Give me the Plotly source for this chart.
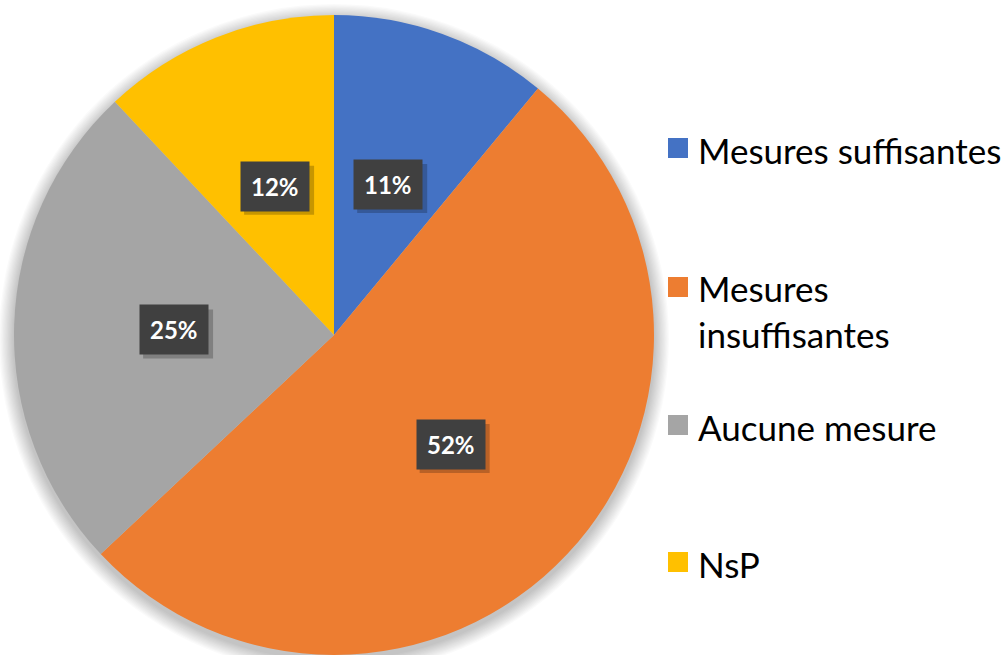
import math
import plotly.graph_objects as go

categories = ["Mesures suffisantes", "Mesures insuffisantes", "Aucune mesure", "NsP"]
legend_labels = ["Mesures suffisantes", "Mesures<br>insuffisantes", "Aucune mesure", "NsP"]
values = [11, 52, 25, 12]
colors = ["#4472C4", "#ED7D31", "#A5A5A5", "#FFC000"]

W, H = 1008, 655
# pie domain (paper coords)
dx0, dx1 = 13.5 / W, 654.5 / W
dy0, dy1 = 0.0, 1 - 15 / H

fig = go.Figure()
fig.add_trace(go.Pie(
    labels=categories, values=values, sort=False, direction="clockwise", rotation=0,
    marker=dict(colors=colors, line=dict(width=0)),
    textinfo="none", hoverinfo="label+percent", showlegend=False,
    domain=dict(x=[dx0, dx1], y=[dy0, dy1]),
))

# geometry in pixels
cx = (dx0 + dx1) / 2 * W
cy = (1 - (dy0 + dy1) / 2) * H
r = min((dx1 - dx0) * W, (dy1 - dy0) * H) / 2

def to_paper(px, py):
    return px / W, 1 - py / H

shapes = []
# soft shadow around the pie
for i in range(12):
    grow = 15 - i * 1.25
    x0, y1p = to_paper(cx - r - grow, cy - r - grow + 4)
    x1, y0p = to_paper(cx + r + grow, cy + r + grow + 4)
    shapes.append(dict(type="circle", xref="paper", yref="paper", x0=x0, x1=x1, y0=y0p, y1=y1p,
                       fillcolor="rgba(0,0,0,0.02)", line=dict(width=0), layer="below"))

annotations = []
total = sum(values)
cum = 0
BOX_W, BOX_H = 70, 49
for v in values:
    mid = (cum + v / 2) / total * 2 * math.pi
    cum += v
    px = cx + 0.5 * r * math.sin(mid)
    py = cy - 0.5 * r * math.cos(mid)
    pct = f"{round(v / total * 100)}%"
    # drop shadow of the label box
    sx0, sy1 = to_paper(px - BOX_W / 2 + 4, py - BOX_H / 2 + 4)
    sx1, sy0 = to_paper(px + BOX_W / 2 + 4, py + BOX_H / 2 + 4)
    shapes.append(dict(type="rect", xref="paper", yref="paper", x0=sx0, x1=sx1, y0=sy0, y1=sy1,
                       fillcolor="rgba(0,0,0,0.22)", line=dict(width=0)))
    ax, ay = to_paper(px, py)
    annotations.append(dict(x=ax, y=ay, xref="paper", yref="paper", showarrow=False,
                            xanchor="center", yanchor="middle",
                            text=f"<b>{pct}</b>", font=dict(family="Lato", size=24, color="white"),
                            bgcolor="#404040", borderpad=10))

# legend built as squares + text
legend_y = [148, 287, 425, 562]
for lab, col, ly in zip(legend_labels, colors, legend_y):
    x0, y1p = to_paper(668, ly - 10)
    x1, y0p = to_paper(688, ly + 10)
    shapes.append(dict(type="rect", xref="paper", yref="paper", x0=x0, x1=x1, y0=y0p, y1=y1p,
                       fillcolor=col, line=dict(width=0)))
    nlines = lab.count("<br>") + 1
    tx, ty = to_paper(696, ly + 2 + (nlines - 1) * 22)
    annotations.append(dict(x=tx, y=ty, xref="paper", yref="paper", showarrow=False,
                            xanchor="left", yanchor="middle", align="left",
                            text=lab, font=dict(family="Lato", size=35, color="#000000")))

fig.update_layout(
    width=W, height=H, margin=dict(l=0, r=0, t=0, b=0),
    paper_bgcolor="white", plot_bgcolor="white",
    shapes=shapes, annotations=annotations, showlegend=False,
)
fig.write_html("out.html", config={"displayModeBar": False},
               post_script="document.body.style.margin='0';document.body.style.overflow='hidden';")
